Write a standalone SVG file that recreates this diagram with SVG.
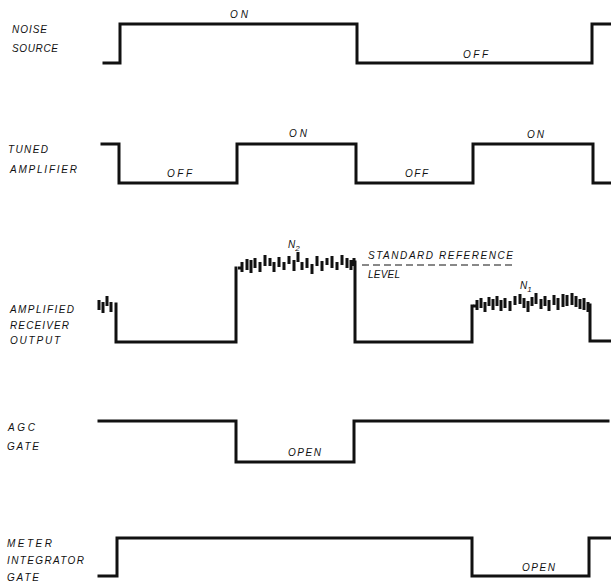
<svg xmlns="http://www.w3.org/2000/svg" width="611" height="584" viewBox="0 0 611 584">
<style>
.w{fill:none;stroke:#111;stroke-width:3;stroke-linejoin:miter;stroke-linecap:square}
.n{fill:none;stroke:#111;stroke-width:3;stroke-linecap:butt}
.t{font-family:"Liberation Sans",Arial,sans-serif;font-style:italic;font-size:10px;fill:#111}
.s{font-size:8px}
.d{fill:none;stroke:#111;stroke-width:1;stroke-dasharray:7 4}
</style>
<rect width="611" height="584" fill="#fff"/>

<g id="noise-source">
<text class="t" x="12" y="33" textLength="35" lengthAdjust="spacing">NOISE</text>
<text class="t" x="12" y="52" textLength="46" lengthAdjust="spacing">SOURCE</text>
<path class="w" d="M104,63 H120 V24 H357 V63 H592 V24 H611"/>
<text class="t" x="230" y="18" textLength="18" lengthAdjust="spacing">ON</text>
<text class="t" x="463" y="58" textLength="25" lengthAdjust="spacing">OFF</text>
</g>

<g id="tuned-amplifier">
<text class="t" x="8" y="153" textLength="40" lengthAdjust="spacing">TUNED</text>
<text class="t" x="10" y="173" textLength="67" lengthAdjust="spacing">AMPLIFIER</text>
<path class="w" d="M102,144 H119 V183 H237 V144 H356 V183 H473 V144 H593 V183 H611"/>
<text class="t" x="167" y="177" textLength="25" lengthAdjust="spacing">OFF</text>
<text class="t" x="289" y="137" textLength="18" lengthAdjust="spacing">ON</text>
<text class="t" x="405" y="177" textLength="23" lengthAdjust="spacing">OFF</text>
<text class="t" x="527" y="138" textLength="17" lengthAdjust="spacing">ON</text>
</g>

<g id="amplified-receiver-output">
<text class="t" x="10" y="313" textLength="64" lengthAdjust="spacing">AMPLIFIED</text>
<text class="t" x="10" y="329" textLength="59" lengthAdjust="spacing">RECEIVER</text>
<text class="t" x="10" y="344" textLength="50" lengthAdjust="spacing">OUTPUT</text>
<path class="n" d="M99,300 V310 M103,302 V313 M107,296 V306 M111,302 V312"/>
<path class="w" d="M116,304 V342 H236 V268 M355,262 V342 H472 V306 M590,305 V341 H611"/>
<path class="n" d="M238,268 H241 M242,262 V272 M247,259 V270 M251,260 V273 M255,258 V268 M260,262 V272 M265,255 V266 M270,258 V266 M274,262 V272 M279,257 V267 M284,262 V270 M289,256 V264 M294,260 V271 M298,252 V262 M302,262 V270 M307,258 V268 M312,264 V274 M317,256 V266 M322,261 V271 M327,258 V265 M332,256 V268 M337,262 V270 M342,255 V265 M347,258 V268 M351,260 V270 M354,258 V266"/>
<path class="n" d="M473,306 H476 M477,300 V310 M481,298 V308 M485,302 V312 M489,297 V306 M493,299 V310 M497,296 V306 M501,300 V311 M505,298 V308 M510,301 V311 M515,296 V305 M520,294 V304 M524,298 V308 M528,301 V312 M532,297 V306 M536,293 V304 M541,299 V309 M545,296 V306 M549,300 V311 M554,295 V305 M558,298 V310 M563,294 V307 M567,295 V306 M572,293 V305 M576,296 V307 M580,299 V309 M584,298 V310 M588,302 V312"/>
<text class="t" x="288" y="248">N<tspan class="s" dy="3">2</tspan></text>
<text class="t" x="520" y="289">N<tspan class="s" dy="3">1</tspan></text>
<line class="d" x1="362" y1="265" x2="513" y2="265"/>
<text class="t" x="368" y="259" textLength="145" lengthAdjust="spacing">STANDARD REFERENCE</text>
<text class="t" x="368" y="278" textLength="32" lengthAdjust="spacing">LEVEL</text>
</g>

<g id="agc-gate">
<text class="t" x="8" y="431" textLength="27" lengthAdjust="spacing">AGC</text>
<text class="t" x="7" y="450" textLength="32" lengthAdjust="spacing">GATE</text>
<path class="w" d="M99,421 H236 V462 H354 V421 H608"/>
<text class="t" x="288" y="456" textLength="33" lengthAdjust="spacing">OPEN</text>
</g>

<g id="meter-integrator-gate">
<text class="t" x="7" y="547" textLength="45" lengthAdjust="spacing">METER</text>
<text class="t" x="7" y="564" textLength="77" lengthAdjust="spacing">INTEGRATOR</text>
<text class="t" x="7" y="581" textLength="32" lengthAdjust="spacing">GATE</text>
<path class="w" d="M99,576 H117 V538 H472 V576 H589 V538 H611"/>
<text class="t" x="522" y="571" textLength="33" lengthAdjust="spacing">OPEN</text>
</g>
</svg>
